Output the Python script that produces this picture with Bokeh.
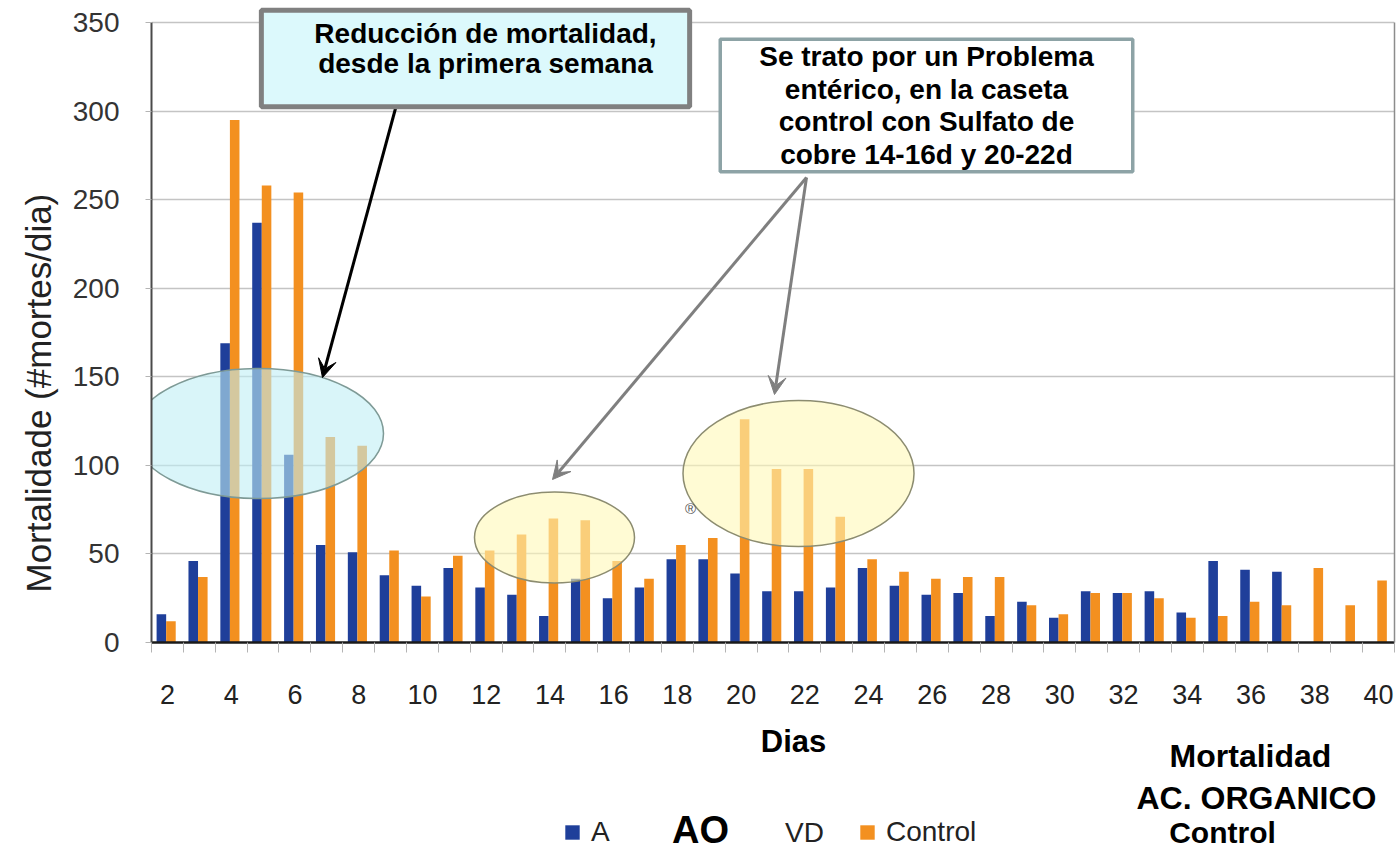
import math
from bokeh.plotting import figure
from bokeh.layouts import column
from bokeh.models import (ColumnDataSource, Range1d, FixedTicker, Label, Arrow, VeeHead,
                          Legend, LegendItem, Title, LinearAxis)
from bokeh.transform import dodge
from bokeh.embed import file_html
from bokeh.resources import INLINE

# ---------------- data ----------------
days = list(range(2, 41))
ao_values = [16, 46, 169, 237, 106, 55, 51, 38, 32, 42, 31, 27, 15, 36, 25, 31, 47, 47, 39,
             29, 29, 31, 42, 32, 27, 28, 15, 23, 14, 29, 28, 29, 17, 46, 41, 40, 0, 0, 0]
control_values = [12, 37, 295, 258, 254, 116, 111, 52, 26, 49, 52, 61, 70, 69, 46, 36, 55, 59, 126,
                  98, 98, 71, 47, 40, 36, 37, 37, 21, 16, 28, 28, 25, 14, 15, 23, 21, 42, 21, 35]
x_tick_labels = list(range(2, 41, 2))
y_ticks = [0, 50, 100, 150, 200, 250, 300, 350]

series_names = ["A", "Control"]
series_colors = ["#1f3f9a", "#f39020"]

# ---------------- geometry (canvas pixels) ----------------
W = 1400
H1, H2 = 722, 130
ML, MT, MR, MB = 151, 6, 6, 80
FL, FT, FR, FB = ML, MT, W - MR, H1 - MB
Y_TOP_PX = 22                       # where 350 sits
X0, X1 = days[0] - 0.5, days[-1] + 0.5
PER_UNIT = (FB - Y_TOP_PX) / y_ticks[-1]
Y0, Y1 = 0, y_ticks[-1] + (Y_TOP_PX - FT) / PER_UNIT


def xd(px):
    return X0 + (px - FL) * (X1 - X0) / (FR - FL)


def yd(py):
    return (FB - py) / PER_UNIT


def wd(px):
    return px * (X1 - X0) / (FR - FL)


def hd(px):
    return px / PER_UNIT


FONT = "Liberation Sans"

src = ColumnDataSource(dict(day=days, ao=ao_values, control=control_values))

p = figure(width=W, height=H1, x_range=Range1d(X0, X1), y_range=Range1d(Y0, Y1),
           output_backend="svg", toolbar_location=None,
           min_border_left=ML, min_border_top=MT, min_border_right=MR, min_border_bottom=MB)
p.background_fill_color = "white"
p.border_fill_color = "white"
p.outline_line_color = None

r_ao = p.vbar(x=dodge("day", -0.19, range=p.x_range), top="ao", width=0.3, source=src,
              fill_color=series_colors[0], line_color=None)
r_ct = p.vbar(x=dodge("day", 0.11, range=p.x_range), top="control", width=0.3, source=src,
              fill_color=series_colors[1], line_color=None)

# axes
p.xaxis.ticker = FixedTicker(ticks=x_tick_labels, minor_ticks=[d + 0.5 for d in [days[0] - 1] + days])
p.xaxis.major_tick_out = 0
p.xaxis.major_tick_in = 0
p.xaxis.minor_tick_out = 10
p.xaxis.minor_tick_in = 0
p.xaxis.minor_tick_line_color = "#b4b4b4"
p.xaxis.axis_line_color = "#1a1a1a"
p.xaxis.axis_line_width = 2.5
p.xaxis.major_label_text_font = FONT
p.xaxis.major_label_text_font_size = "27px"
p.xaxis.major_label_text_color = "#222222"
p.xaxis.major_label_standoff = 32

p.yaxis.ticker = FixedTicker(ticks=y_ticks)
p.yaxis.bounds = (y_ticks[0], y_ticks[-1])
p.yaxis.major_tick_out = 6
p.yaxis.major_tick_in = 0
p.yaxis.minor_tick_line_color = None
p.yaxis.major_tick_line_color = "#b4b4b4"
p.yaxis.axis_line_color = "#4a4a4a"
p.yaxis.axis_line_width = 2
p.yaxis.major_label_text_font = FONT
p.yaxis.major_label_text_font_size = "28px"
p.yaxis.major_label_text_color = "#333333"
p.yaxis.major_label_standoff = 26

# right frame border (plot area edge)
right_edge = LinearAxis(ticker=FixedTicker(ticks=[]), bounds=(y_ticks[0], y_ticks[-1]),
                        axis_line_color="#8c8c8c", axis_line_width=1.5,
                        major_tick_line_color=None, minor_tick_line_color=None,
                        major_label_standoff=0)
p.add_layout(right_edge, "right")

p.xgrid.grid_line_color = None
p.ygrid.ticker = FixedTicker(ticks=y_ticks)
p.ygrid.grid_line_color = "#c4c4c4"
p.ygrid.grid_line_width = 1.5

# y axis title (starts near the bottom of the frame, shifted up by offset)
p.add_layout(Title(text="Mortalidade (#mortes/dia)", align="left", offset=50,
                   vertical_align="top",
                   text_font=FONT, text_font_size="35px", text_font_style="normal",
                   text_color="#222222", standoff=19), "left")

# highlight ellipses (translucent, over the bars)
p.ellipse(x=[xd(258)], y=[yd(433)], width=[wd(250)], height=[hd(130)],
          fill_color="#bfeef5", fill_alpha=0.6, line_color="#7e9a96", line_width=1.5)
p.ellipse(x=[xd(554)], y=[yd(537)], width=[wd(160)], height=[hd(91)],
          fill_color="#fff8b8", fill_alpha=0.6, line_color="#8c8c70", line_width=1.5)
p.ellipse(x=[xd(798)], y=[yd(473)], width=[wd(231)], height=[hd(146)],
          fill_color="#fff8b8", fill_alpha=0.6, line_color="#8c8c70", line_width=1.5)

# arrows
p.add_layout(Arrow(end=VeeHead(size=18, fill_color="black", line_color="black"),
                   x_start=xd(395), y_start=yd(108), x_end=xd(322), y_end=yd(377),
                   line_color="black", line_width=3))
for ex, ey in [(552, 479), (774, 394)]:
    p.add_layout(Arrow(end=VeeHead(size=18, fill_color="#7f7f7f", line_color="#7f7f7f"),
                       x_start=xd(806), y_start=yd(177), x_end=xd(ex), y_end=yd(ey),
                       line_color="#7f7f7f", line_width=3))

# annotation boxes (the anchor is the centre of the padded box)
p.add_layout(Label(x=xd(475), y=yd(58), text="Reducción de mortalidad,\ndesde la primera semana",
                   text_align="center", text_baseline="middle", text_font=FONT,
                   text_font_style="bold", text_font_size="28px", text_color="black",
                   text_line_height=0.95,
                   background_fill_color="#dcf9fc", border_line_color="#808080",
                   border_line_width=5,
                   padding=dict(left=53, right=33, top=8, bottom=28)))
p.add_layout(Label(x=xd(926), y=yd(105), text="Se trato por un Problema\nentérico, en la caseta\ncontrol con Sulfato de\ncobre 14-16d y 20-22d",
                   text_align="center", text_baseline="middle", text_font=FONT,
                   text_font_style="bold", text_font_size="28px", text_color="black",
                   text_line_height=1.05,
                   background_fill_color="white", border_line_color="#8da3a6",
                   border_line_width=3.5,
                   padding=dict(left=39, right=39, top=2, bottom=2)))

p.add_layout(Label(x=xd(690), y=yd(508), text="®", text_align="center", text_baseline="middle",
                   text_font=FONT, text_font_size="15px", text_color="#555555"))

# ---------------- lower strip: axis title, legend, side notes ----------------
# its frame lines up with the main frame: x data = canvas px, y data = -(canvas px below the main plot)
q = figure(width=W, height=H2, x_range=Range1d(FL, FR), y_range=Range1d(-H2, 0),
           output_backend="svg", toolbar_location=None, x_axis_type=None, y_axis_type=None,
           min_border_left=ML, min_border_right=MR, min_border_top=0, min_border_bottom=0)
q.outline_line_color = None
q.xgrid.grid_line_color = None
q.ygrid.grid_line_color = None
q.background_fill_color = "white"
q.border_fill_color = "white"


def qy(py):
    return -(py - H1)


# legend swatches: the same series, whose bars fall outside this strip's range
g_ao = q.vbar(x="day", top="ao", width=0.3, source=src, fill_color=series_colors[0], line_color=None)
g_ct = q.vbar(x="day", top="control", width=0.3, source=src, fill_color=series_colors[1], line_color=None)
legend = Legend(items=[LegendItem(label=series_names[0], renderers=[g_ao]),
                       LegendItem(label=series_names[1], renderers=[g_ct])],
                orientation="horizontal", location=(563 - FL, 4),
                spacing=247, padding=0, margin=0, border_line_color=None,
                background_fill_alpha=0, glyph_width=18, glyph_height=18,
                label_standoff=10, label_text_font=FONT, label_text_font_size="28px",
                label_text_color="#222222")
q.add_layout(legend)

q.add_layout(Label(x=700, y=qy(829), text="AO", text_align="center", text_baseline="middle",
                   text_font=FONT, text_font_style="bold", text_font_size="38px", text_color="black"))
q.add_layout(Label(x=804, y=qy(832), text="VD", text_align="center", text_baseline="middle",
                   text_font=FONT, text_font_size="28px", text_color="#222222"))
q.add_layout(Label(x=793, y=qy(741), text="Dias", text_align="center", text_baseline="middle",
                   text_font=FONT, text_font_style="bold", text_font_size="31px", text_color="black"))
for txt, cx, cy, fs in [("Mortalidad", 1250, 755, "32px"), ("AC. ORGANICO", 1256, 797, "32px"),
                        ("Control", 1222, 832, "30px")]:
    q.add_layout(Label(x=cx, y=qy(cy), text=txt, text_align="center", text_baseline="middle",
                       text_font=FONT, text_font_style="bold", text_font_size=fs,
                       text_color="black"))

layout = column(p, q, spacing=0)
open("out.html", "w").write(file_html(layout, INLINE))
